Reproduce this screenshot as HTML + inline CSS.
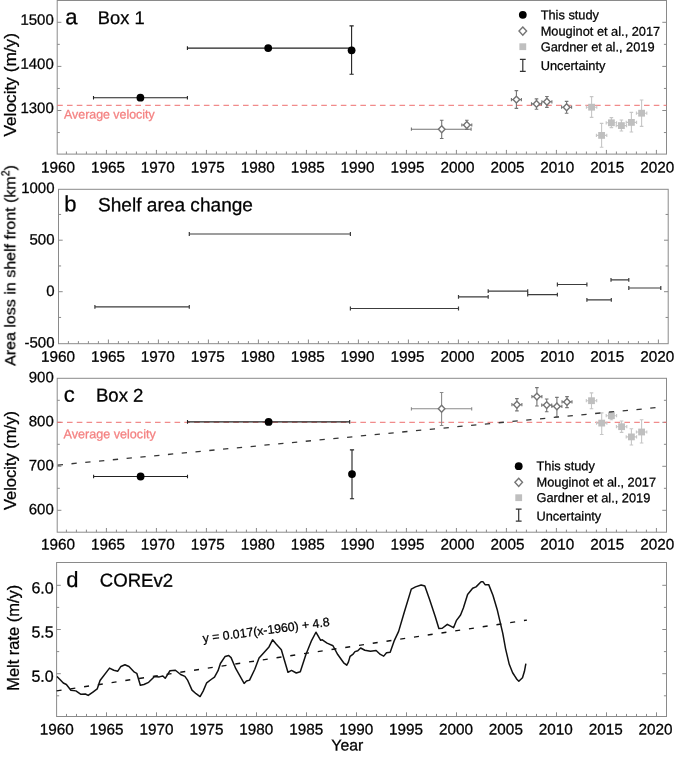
<!DOCTYPE html>
<html lang="en"><head><meta charset="utf-8"><title>Figure</title>
<style>html,body{margin:0;padding:0;background:#fff}svg{display:block}text{font-family:"Liberation Sans", Arial, Helvetica, sans-serif;stroke:#000;stroke-width:.28px}text.r{stroke:#f48282}</style></head><body>
<svg width="675" height="759" viewBox="0 0 675 759">
<rect width="675" height="759" fill="#fff"/>
<g style="opacity:0.999">
<g id="panel-a">
<rect x="57.2" y="0.5" width="609.3" height="153.6" fill="none" stroke="#8a8a8a" stroke-width="1"/>
<path d="M66.4 154.1v-2.6M76.4 154.1v-2.6M86.4 154.1v-2.6M96.4 154.1v-2.6M106.4 154.1v-4.2M116.4 154.1v-2.6M126.4 154.1v-2.6M136.4 154.1v-2.6M146.4 154.1v-2.6M156.4 154.1v-4.2M166.4 154.1v-2.6M176.4 154.1v-2.6M186.4 154.1v-2.6M196.4 154.1v-2.6M206.4 154.1v-4.2M216.4 154.1v-2.6M226.4 154.1v-2.6M236.4 154.1v-2.6M246.4 154.1v-2.6M256.4 154.1v-4.2M266.4 154.1v-2.6M276.4 154.1v-2.6M286.4 154.1v-2.6M296.4 154.1v-2.6M306.4 154.1v-4.2M316.4 154.1v-2.6M326.4 154.1v-2.6M336.4 154.1v-2.6M346.4 154.1v-2.6M356.4 154.1v-4.2M366.4 154.1v-2.6M376.4 154.1v-2.6M386.4 154.1v-2.6M396.4 154.1v-2.6M406.4 154.1v-4.2M416.4 154.1v-2.6M426.4 154.1v-2.6M436.4 154.1v-2.6M446.4 154.1v-2.6M456.4 154.1v-4.2M466.4 154.1v-2.6M476.4 154.1v-2.6M486.4 154.1v-2.6M496.4 154.1v-2.6M506.4 154.1v-4.2M516.4 154.1v-2.6M526.4 154.1v-2.6M536.4 154.1v-2.6M546.4 154.1v-2.6M556.4 154.1v-4.2M566.4 154.1v-2.6M576.4 154.1v-2.6M586.4 154.1v-2.6M596.4 154.1v-2.6M606.4 154.1v-4.2M616.4 154.1v-2.6M626.4 154.1v-2.6M636.4 154.1v-2.6M646.4 154.1v-2.6M656.4 154.1v-4.2M57.2 110.5h4.2M666.5 110.5h-4.2M57.2 66.4h4.2M666.5 66.4h-4.2M57.2 22.3h4.2M666.5 22.3h-4.2M57.2 132.55h2.6M666.5 132.55h-2.6M57.2 88.45h2.6M666.5 88.45h-2.6M57.2 44.35h2.6M666.5 44.35h-2.6" stroke="#8a8a8a" stroke-width="1" fill="none"/>
<g font-size="15.3" text-anchor="middle" fill="#000">
<text transform="rotate(0.05 58 172.4)" x="58" y="172.4">1960</text>
<text transform="rotate(0.05 107.94 172.4)" x="107.94" y="172.4">1965</text>
<text transform="rotate(0.05 157.87 172.4)" x="157.87" y="172.4">1970</text>
<text transform="rotate(0.05 207.81 172.4)" x="207.81" y="172.4">1975</text>
<text transform="rotate(0.05 257.74 172.4)" x="257.74" y="172.4">1980</text>
<text transform="rotate(0.05 307.68 172.4)" x="307.68" y="172.4">1985</text>
<text transform="rotate(0.05 357.61 172.4)" x="357.61" y="172.4">1990</text>
<text transform="rotate(0.05 407.55 172.4)" x="407.55" y="172.4">1995</text>
<text transform="rotate(0.05 457.48 172.4)" x="457.48" y="172.4">2000</text>
<text transform="rotate(0.05 507.42 172.4)" x="507.42" y="172.4">2005</text>
<text transform="rotate(0.05 557.35 172.4)" x="557.35" y="172.4">2010</text>
<text transform="rotate(0.05 607.28 172.4)" x="607.28" y="172.4">2015</text>
<text transform="rotate(0.05 657.22 172.4)" x="657.22" y="172.4">2020</text>
</g>
<g font-size="15" text-anchor="end" fill="#000">
<text transform="rotate(0.05 53.8 113)" x="53.8" y="113">1300</text>
<text transform="rotate(0.05 53.8 68.9)" x="53.8" y="68.9">1400</text>
<text transform="rotate(0.05 53.8 24.8)" x="53.8" y="24.8">1500</text>
</g>
<path d="M57.2 105.3H666.5" stroke="#ee6e6e" stroke-width="1" stroke-dasharray="5.6 4.18" fill="none"/>
<text transform="rotate(0.05 64 118.5)" x="64" y="118.5" font-size="12.4" class="r" fill="#f48282">Average velocity</text>
<path d="M93.5 97.7H187.4M93.5 95.9v3.6M187.4 95.9v3.6" stroke="#222" stroke-width="1.1" fill="none"/>
<path d="M140.4 95.5V100M140.4 95.5h0M140.4 100h0" stroke="#222" stroke-width="1.1" fill="none"/>
<circle cx="140.4" cy="97.7" r="3.9" fill="#000"/>
<path d="M187.4 48.1H351.6M187.4 46.3v3.6M351.6 46.3v3.6" stroke="#222" stroke-width="1.1" fill="none"/>
<circle cx="268.2" cy="48.1" r="3.9" fill="#000"/>
<path d="M351.6 25.9V74.2M349.5 25.9h4.2M349.5 74.2h4.2" stroke="#222" stroke-width="1.1" fill="none"/>
<circle cx="351.6" cy="50.3" r="3.9" fill="#000"/>
<path d="M411.4 129.2H471.1M411.4 127.6v3.2M471.1 127.6v3.2" stroke="#747474" stroke-width="1.1" fill="none"/>
<path d="M441.7 120.2V138.5M439.9 120.2h3.6M439.9 138.5h3.6" stroke="#747474" stroke-width="1.1" fill="none"/>
<path d="M441.7 125.75L445 129.2L441.7 132.65L438.4 129.2Z" fill="#fff" stroke="#747474" stroke-width="1.4"/>
<path d="M461.8 125H471.8M461.8 123.4v3.2M471.8 123.4v3.2" stroke="#747474" stroke-width="1.1" fill="none"/>
<path d="M466.8 120.2V129.4M465 120.2h3.6M465 129.4h3.6" stroke="#747474" stroke-width="1.1" fill="none"/>
<path d="M466.8 121.55L470.1 125L466.8 128.45L463.5 125Z" fill="#fff" stroke="#747474" stroke-width="1.4"/>
<path d="M511.4 99.6H521.4M511.4 98v3.2M521.4 98v3.2" stroke="#747474" stroke-width="1.1" fill="none"/>
<path d="M516.4 90.6V108.4M514.6 90.6h3.6M514.6 108.4h3.6" stroke="#747474" stroke-width="1.1" fill="none"/>
<path d="M516.4 96.15L519.7 99.6L516.4 103.05L513.1 99.6Z" fill="#fff" stroke="#747474" stroke-width="1.4"/>
<path d="M531.5 103.9H541.5M531.5 102.3v3.2M541.5 102.3v3.2" stroke="#747474" stroke-width="1.1" fill="none"/>
<path d="M536.5 98.9V109.3M534.7 98.9h3.6M534.7 109.3h3.6" stroke="#747474" stroke-width="1.1" fill="none"/>
<path d="M536.5 100.45L539.8 103.9L536.5 107.35L533.2 103.9Z" fill="#fff" stroke="#747474" stroke-width="1.4"/>
<path d="M541.9 101.8H551.9M541.9 100.2v3.2M551.9 100.2v3.2" stroke="#747474" stroke-width="1.1" fill="none"/>
<path d="M546.9 96.5V107.4M545.1 96.5h3.6M545.1 107.4h3.6" stroke="#747474" stroke-width="1.1" fill="none"/>
<path d="M546.9 98.35L550.2 101.8L546.9 105.25L543.6 101.8Z" fill="#fff" stroke="#747474" stroke-width="1.4"/>
<path d="M561.6 107.2H571.6M561.6 105.6v3.2M571.6 105.6v3.2" stroke="#747474" stroke-width="1.1" fill="none"/>
<path d="M566.6 101.4V113.2M564.8 101.4h3.6M564.8 113.2h3.6" stroke="#747474" stroke-width="1.1" fill="none"/>
<path d="M566.6 103.75L569.9 107.2L566.6 110.65L563.3 107.2Z" fill="#fff" stroke="#747474" stroke-width="1.4"/>
<path d="M586.4 107.2H596.8M586.4 105.6v3.2M596.8 105.6v3.2" stroke="#c6c6c6" stroke-width="1.1" fill="none"/>
<path d="M591.6 96.6V117.4M589.8 96.6h3.6M589.8 117.4h3.6" stroke="#c6c6c6" stroke-width="1.1" fill="none"/>
<rect x="588.2" y="103.8" width="6.8" height="6.8" fill="#bfbfbf"/>
<path d="M596.4 135.4H606.8M596.4 133.8v3.2M606.8 133.8v3.2" stroke="#c6c6c6" stroke-width="1.1" fill="none"/>
<path d="M601.6 123.4V147.2M599.8 123.4h3.6M599.8 147.2h3.6" stroke="#c6c6c6" stroke-width="1.1" fill="none"/>
<rect x="598.2" y="132" width="6.8" height="6.8" fill="#bfbfbf"/>
<path d="M606.2 122.8H616.6M606.2 121.2v3.2M616.6 121.2v3.2" stroke="#c6c6c6" stroke-width="1.1" fill="none"/>
<path d="M611.4 117.6V127.6M609.6 117.6h3.6M609.6 127.6h3.6" stroke="#c6c6c6" stroke-width="1.1" fill="none"/>
<rect x="608" y="119.4" width="6.8" height="6.8" fill="#bfbfbf"/>
<path d="M616.2 125.6H626.6M616.2 124v3.2M626.6 124v3.2" stroke="#c6c6c6" stroke-width="1.1" fill="none"/>
<path d="M621.4 120V131M619.6 120h3.6M619.6 131h3.6" stroke="#c6c6c6" stroke-width="1.1" fill="none"/>
<rect x="618" y="122.2" width="6.8" height="6.8" fill="#bfbfbf"/>
<path d="M626.2 122.4H636.6M626.2 120.8v3.2M636.6 120.8v3.2" stroke="#c6c6c6" stroke-width="1.1" fill="none"/>
<path d="M631.4 112.4V132M629.6 112.4h3.6M629.6 132h3.6" stroke="#c6c6c6" stroke-width="1.1" fill="none"/>
<rect x="628" y="119" width="6.8" height="6.8" fill="#bfbfbf"/>
<path d="M636.4 113.2H646.8M636.4 111.6v3.2M646.8 111.6v3.2" stroke="#c6c6c6" stroke-width="1.1" fill="none"/>
<path d="M641.6 100V126.4M639.8 100h3.6M639.8 126.4h3.6" stroke="#c6c6c6" stroke-width="1.1" fill="none"/>
<rect x="638.2" y="109.8" width="6.8" height="6.8" fill="#bfbfbf"/>
<circle cx="522.8" cy="14.8" r="3.9" fill="#000"/>
<path d="M522.8 27L526.6 31.1L522.8 35.2L519 31.1Z" fill="#fff" stroke="#747474" stroke-width="1.4"/>
<rect x="519.4" y="43.3" width="6.8" height="6.8" fill="#bfbfbf"/>
<path d="M522.8 59.4V71.4M519.9 59.4h5.8M519.9 71.4h5.8" stroke="#333" stroke-width="1.2" fill="none"/>
<g font-size="12.8" fill="#000">
<text transform="rotate(0.05 540.7 19.3)" x="540.7" y="19.3">This study</text>
<text transform="rotate(0.05 540.7 35.6)" x="540.7" y="35.6">Mouginot et al., 2017</text>
<text transform="rotate(0.05 540.7 51.2)" x="540.7" y="51.2">Gardner et al., 2019</text>
<text transform="rotate(0.05 540.7 69.9)" x="540.7" y="69.9">Uncertainty</text>
</g>
<text transform="rotate(0.05 65.2 24.2)" x="65.2" y="24.2" font-size="22" fill="#000">a</text><text transform="rotate(0.05 97.8 24)" x="97.8" y="24" font-size="18.3" fill="#000">Box 1</text>
<text transform="translate(15.8,136.6) rotate(-90)" font-size="16.2" textLength="103.6" lengthAdjust="spacingAndGlyphs" fill="#000">Velocity (m/y)</text>
</g>
<g id="panel-b">
<rect x="58.5" y="189.3" width="609.7" height="154.4" fill="none" stroke="#8a8a8a" stroke-width="1"/>
<path d="M68.4 343.7v-2.6M78.4 343.7v-2.6M88.4 343.7v-2.6M98.4 343.7v-2.6M108.4 343.7v-4.2M118.4 343.7v-2.6M128.4 343.7v-2.6M138.4 343.7v-2.6M148.4 343.7v-2.6M158.4 343.7v-4.2M168.4 343.7v-2.6M178.4 343.7v-2.6M188.4 343.7v-2.6M198.4 343.7v-2.6M208.4 343.7v-4.2M218.4 343.7v-2.6M228.4 343.7v-2.6M238.4 343.7v-2.6M248.4 343.7v-2.6M258.4 343.7v-4.2M268.4 343.7v-2.6M278.4 343.7v-2.6M288.4 343.7v-2.6M298.4 343.7v-2.6M308.4 343.7v-4.2M318.4 343.7v-2.6M328.4 343.7v-2.6M338.4 343.7v-2.6M348.4 343.7v-2.6M358.4 343.7v-4.2M368.4 343.7v-2.6M378.4 343.7v-2.6M388.4 343.7v-2.6M398.4 343.7v-2.6M408.4 343.7v-4.2M418.4 343.7v-2.6M428.4 343.7v-2.6M438.4 343.7v-2.6M448.4 343.7v-2.6M458.4 343.7v-4.2M468.4 343.7v-2.6M478.4 343.7v-2.6M488.4 343.7v-2.6M498.4 343.7v-2.6M508.4 343.7v-4.2M518.4 343.7v-2.6M528.4 343.7v-2.6M538.4 343.7v-2.6M548.4 343.7v-2.6M558.4 343.7v-4.2M568.4 343.7v-2.6M578.4 343.7v-2.6M588.4 343.7v-2.6M598.4 343.7v-2.6M608.4 343.7v-4.2M618.4 343.7v-2.6M628.4 343.7v-2.6M638.4 343.7v-2.6M648.4 343.7v-2.6M658.4 343.7v-4.2M58.5 291.7h4.2M668.2 291.7h-4.2M58.5 240.2h4.2M668.2 240.2h-4.2M58.5 317.45h2.6M668.2 317.45h-2.6M58.5 265.95h2.6M668.2 265.95h-2.6M58.5 214.45h2.6M668.2 214.45h-2.6" stroke="#8a8a8a" stroke-width="1" fill="none"/>
<g font-size="15.3" text-anchor="middle" fill="#000">
<text transform="rotate(0.05 58 361.7)" x="58" y="361.7">1960</text>
<text transform="rotate(0.05 107.94 361.7)" x="107.94" y="361.7">1965</text>
<text transform="rotate(0.05 157.87 361.7)" x="157.87" y="361.7">1970</text>
<text transform="rotate(0.05 207.81 361.7)" x="207.81" y="361.7">1975</text>
<text transform="rotate(0.05 257.74 361.7)" x="257.74" y="361.7">1980</text>
<text transform="rotate(0.05 307.68 361.7)" x="307.68" y="361.7">1985</text>
<text transform="rotate(0.05 357.61 361.7)" x="357.61" y="361.7">1990</text>
<text transform="rotate(0.05 407.55 361.7)" x="407.55" y="361.7">1995</text>
<text transform="rotate(0.05 457.48 361.7)" x="457.48" y="361.7">2000</text>
<text transform="rotate(0.05 507.42 361.7)" x="507.42" y="361.7">2005</text>
<text transform="rotate(0.05 557.35 361.7)" x="557.35" y="361.7">2010</text>
<text transform="rotate(0.05 607.28 361.7)" x="607.28" y="361.7">2015</text>
<text transform="rotate(0.05 657.22 361.7)" x="657.22" y="361.7">2020</text>
</g>
<g font-size="15" text-anchor="end" fill="#000">
<text transform="rotate(0.05 54.5 347.6)" x="54.5" y="347.6">-500</text>
<text transform="rotate(0.05 54.5 296.1)" x="54.5" y="296.1">0</text>
<text transform="rotate(0.05 54.5 244.6)" x="54.5" y="244.6">500</text>
<text transform="rotate(0.05 54.5 193.1)" x="54.5" y="193.1">1000</text>
</g>
<path d="M94.9 306.8H189.3M94.9 304.9v3.8M189.3 304.9v3.8" stroke="#3c3c3c" stroke-width="1.2" fill="none"/>
<path d="M189.3 234H350.4M189.3 232.1v3.8M350.4 232.1v3.8" stroke="#3c3c3c" stroke-width="1.2" fill="none"/>
<path d="M350.4 308.5H458.5M350.4 306.6v3.8M458.5 306.6v3.8" stroke="#3c3c3c" stroke-width="1.2" fill="none"/>
<path d="M458.5 296.8H488.2M458.5 294.9v3.8M488.2 294.9v3.8" stroke="#3c3c3c" stroke-width="1.2" fill="none"/>
<path d="M488.2 291.1H527.7M488.2 289.2v3.8M527.7 289.2v3.8" stroke="#3c3c3c" stroke-width="1.2" fill="none"/>
<path d="M527.7 294.6H557.4M527.7 292.7v3.8M557.4 292.7v3.8" stroke="#3c3c3c" stroke-width="1.2" fill="none"/>
<path d="M557.4 284.5H586.9M557.4 282.6v3.8M586.9 282.6v3.8" stroke="#3c3c3c" stroke-width="1.2" fill="none"/>
<path d="M586.9 299.8H611.3M586.9 297.9v3.8M611.3 297.9v3.8" stroke="#3c3c3c" stroke-width="1.2" fill="none"/>
<path d="M611 279.9H628.8M611 278v3.8M628.8 278v3.8" stroke="#3c3c3c" stroke-width="1.2" fill="none"/>
<path d="M628.8 288H660.8M628.8 286.1v3.8M660.8 286.1v3.8" stroke="#3c3c3c" stroke-width="1.2" fill="none"/>
<text transform="rotate(0.05 64.2 211.3)" x="64.2" y="211.3" font-size="22" fill="#000">b</text><text transform="rotate(0.05 98 211.2)" x="98" y="211.2" font-size="19.1" fill="#000">Shelf area change</text>
<text transform="translate(15.3,365.9) rotate(-90)" font-size="15.5" textLength="200.8" lengthAdjust="spacingAndGlyphs" fill="#000">Area loss in shelf front (km<tspan font-size="10" dy="-6">2</tspan><tspan dy="6">)</tspan></text>
</g>
<g id="panel-c">
<rect x="57.2" y="378.3" width="609.3" height="153.9" fill="none" stroke="#8a8a8a" stroke-width="1"/>
<path d="M66.4 532.2v-2.6M76.4 532.2v-2.6M86.4 532.2v-2.6M96.4 532.2v-2.6M106.4 532.2v-4.2M116.4 532.2v-2.6M126.4 532.2v-2.6M136.4 532.2v-2.6M146.4 532.2v-2.6M156.4 532.2v-4.2M166.4 532.2v-2.6M176.4 532.2v-2.6M186.4 532.2v-2.6M196.4 532.2v-2.6M206.4 532.2v-4.2M216.4 532.2v-2.6M226.4 532.2v-2.6M236.4 532.2v-2.6M246.4 532.2v-2.6M256.4 532.2v-4.2M266.4 532.2v-2.6M276.4 532.2v-2.6M286.4 532.2v-2.6M296.4 532.2v-2.6M306.4 532.2v-4.2M316.4 532.2v-2.6M326.4 532.2v-2.6M336.4 532.2v-2.6M346.4 532.2v-2.6M356.4 532.2v-4.2M366.4 532.2v-2.6M376.4 532.2v-2.6M386.4 532.2v-2.6M396.4 532.2v-2.6M406.4 532.2v-4.2M416.4 532.2v-2.6M426.4 532.2v-2.6M436.4 532.2v-2.6M446.4 532.2v-2.6M456.4 532.2v-4.2M466.4 532.2v-2.6M476.4 532.2v-2.6M486.4 532.2v-2.6M496.4 532.2v-2.6M506.4 532.2v-4.2M516.4 532.2v-2.6M526.4 532.2v-2.6M536.4 532.2v-2.6M546.4 532.2v-2.6M556.4 532.2v-4.2M566.4 532.2v-2.6M576.4 532.2v-2.6M586.4 532.2v-2.6M596.4 532.2v-2.6M606.4 532.2v-4.2M616.4 532.2v-2.6M626.4 532.2v-2.6M636.4 532.2v-2.6M646.4 532.2v-2.6M656.4 532.2v-4.2M57.2 510.3h4.2M666.5 510.3h-4.2M57.2 466.3h4.2M666.5 466.3h-4.2M57.2 422.3h4.2M666.5 422.3h-4.2M57.2 488.3h2.6M666.5 488.3h-2.6M57.2 444.3h2.6M666.5 444.3h-2.6M57.2 400.3h2.6M666.5 400.3h-2.6" stroke="#8a8a8a" stroke-width="1" fill="none"/>
<g font-size="15.3" text-anchor="middle" fill="#000">
<text transform="rotate(0.05 58 549.4)" x="58" y="549.4">1960</text>
<text transform="rotate(0.05 107.94 549.4)" x="107.94" y="549.4">1965</text>
<text transform="rotate(0.05 157.87 549.4)" x="157.87" y="549.4">1970</text>
<text transform="rotate(0.05 207.81 549.4)" x="207.81" y="549.4">1975</text>
<text transform="rotate(0.05 257.74 549.4)" x="257.74" y="549.4">1980</text>
<text transform="rotate(0.05 307.68 549.4)" x="307.68" y="549.4">1985</text>
<text transform="rotate(0.05 357.61 549.4)" x="357.61" y="549.4">1990</text>
<text transform="rotate(0.05 407.55 549.4)" x="407.55" y="549.4">1995</text>
<text transform="rotate(0.05 457.48 549.4)" x="457.48" y="549.4">2000</text>
<text transform="rotate(0.05 507.42 549.4)" x="507.42" y="549.4">2005</text>
<text transform="rotate(0.05 557.35 549.4)" x="557.35" y="549.4">2010</text>
<text transform="rotate(0.05 607.28 549.4)" x="607.28" y="549.4">2015</text>
<text transform="rotate(0.05 657.22 549.4)" x="657.22" y="549.4">2020</text>
</g>
<g font-size="15" text-anchor="end" fill="#000">
<text transform="rotate(0.05 53.8 514.3)" x="53.8" y="514.3">600</text>
<text transform="rotate(0.05 53.8 470.3)" x="53.8" y="470.3">700</text>
<text transform="rotate(0.05 53.8 426.3)" x="53.8" y="426.3">800</text>
<text transform="rotate(0.05 53.8 382.3)" x="53.8" y="382.3">900</text>
</g>
<path d="M57.2 422.3H666.5" stroke="#ee6e6e" stroke-width="1" stroke-dasharray="5.6 4.18" fill="none"/>
<text transform="rotate(0.05 63.6 438.3)" x="63.6" y="438.3" font-size="12.6" class="r" fill="#f48282">Average velocity</text>
<path d="M93.6 476.5H187.5M93.6 474.7v3.6M187.5 474.7v3.6" stroke="#222" stroke-width="1.1" fill="none"/>
<circle cx="140.6" cy="476.5" r="3.9" fill="#000"/>
<path d="M187.5 421.9H349.7M187.5 420.1v3.6M349.7 420.1v3.6" stroke="#222" stroke-width="1.1" fill="none"/>
<circle cx="268.6" cy="421.9" r="3.9" fill="#000"/>
<path d="M352 449.9V498.8M349.9 449.9h4.2M349.9 498.8h4.2" stroke="#222" stroke-width="1.1" fill="none"/>
<circle cx="352" cy="474.1" r="3.9" fill="#000"/>
<path d="M411.4 408.8H471.7M411.4 407.2v3.2M471.7 407.2v3.2" stroke="#8a8a8a" stroke-width="1.1" fill="none"/>
<path d="M441.6 392.5V425.5M439.8 392.5h3.6M439.8 425.5h3.6" stroke="#8a8a8a" stroke-width="1.1" fill="none"/>
<path d="M441.6 405.35L444.9 408.8L441.6 412.25L438.3 408.8Z" fill="#fff" stroke="#747474" stroke-width="1.4"/>
<path d="M511.9 404.7H521.9M511.9 403.1v3.2M521.9 403.1v3.2" stroke="#747474" stroke-width="1.1" fill="none"/>
<path d="M516.9 398.6V410.9M515.1 398.6h3.6M515.1 410.9h3.6" stroke="#747474" stroke-width="1.1" fill="none"/>
<path d="M516.9 401.25L520.2 404.7L516.9 408.15L513.6 404.7Z" fill="#fff" stroke="#747474" stroke-width="1.4"/>
<path d="M531.9 396.6H541.9M531.9 395v3.2M541.9 395v3.2" stroke="#747474" stroke-width="1.1" fill="none"/>
<path d="M536.9 387.6V406M535.1 387.6h3.6M535.1 406h3.6" stroke="#747474" stroke-width="1.1" fill="none"/>
<path d="M536.9 393.15L540.2 396.6L536.9 400.05L533.6 396.6Z" fill="#fff" stroke="#747474" stroke-width="1.4"/>
<path d="M541.7 405.1H551.7M541.7 403.5v3.2M551.7 403.5v3.2" stroke="#747474" stroke-width="1.1" fill="none"/>
<path d="M546.7 399V411.7M544.9 399h3.6M544.9 411.7h3.6" stroke="#747474" stroke-width="1.1" fill="none"/>
<path d="M546.7 401.65L550 405.1L546.7 408.55L543.4 405.1Z" fill="#fff" stroke="#747474" stroke-width="1.4"/>
<path d="M551.9 406.4H561.9M551.9 404.8v3.2M561.9 404.8v3.2" stroke="#747474" stroke-width="1.1" fill="none"/>
<path d="M556.9 397.4V417M555.1 397.4h3.6M555.1 417h3.6" stroke="#747474" stroke-width="1.1" fill="none"/>
<path d="M556.9 402.95L560.2 406.4L556.9 409.85L553.6 406.4Z" fill="#fff" stroke="#747474" stroke-width="1.4"/>
<path d="M562 401.9H572M562 400.3v3.2M572 400.3v3.2" stroke="#747474" stroke-width="1.1" fill="none"/>
<path d="M567 396.6V407.6M565.2 396.6h3.6M565.2 407.6h3.6" stroke="#747474" stroke-width="1.1" fill="none"/>
<path d="M567 398.45L570.3 401.9L567 405.35L563.7 401.9Z" fill="#fff" stroke="#747474" stroke-width="1.4"/>
<path d="M586.3 400.7H596.7M586.3 399.1v3.2M596.7 399.1v3.2" stroke="#c6c6c6" stroke-width="1.1" fill="none"/>
<path d="M591.5 392.9V408.8M589.7 392.9h3.6M589.7 408.8h3.6" stroke="#c6c6c6" stroke-width="1.1" fill="none"/>
<rect x="588.1" y="397.3" width="6.8" height="6.8" fill="#bfbfbf"/>
<path d="M596.5 423.1H606.9M596.5 421.5v3.2M606.9 421.5v3.2" stroke="#c6c6c6" stroke-width="1.1" fill="none"/>
<path d="M601.7 412.9V434.5M599.9 412.9h3.6M599.9 434.5h3.6" stroke="#c6c6c6" stroke-width="1.1" fill="none"/>
<rect x="598.3" y="419.7" width="6.8" height="6.8" fill="#bfbfbf"/>
<path d="M606.2 415.7H616.6M606.2 414.1v3.2M616.6 414.1v3.2" stroke="#c6c6c6" stroke-width="1.1" fill="none"/>
<path d="M611.4 411.6V419.8M609.6 411.6h3.6M609.6 419.8h3.6" stroke="#c6c6c6" stroke-width="1.1" fill="none"/>
<rect x="608" y="412.3" width="6.8" height="6.8" fill="#bfbfbf"/>
<path d="M616.4 426.7H626.8M616.4 425.1v3.2M626.8 425.1v3.2" stroke="#c6c6c6" stroke-width="1.1" fill="none"/>
<path d="M621.6 421V432.4M619.8 421h3.6M619.8 432.4h3.6" stroke="#c6c6c6" stroke-width="1.1" fill="none"/>
<rect x="618.2" y="423.3" width="6.8" height="6.8" fill="#bfbfbf"/>
<path d="M626.2 436.9H636.6M626.2 435.3v3.2M636.6 435.3v3.2" stroke="#c6c6c6" stroke-width="1.1" fill="none"/>
<path d="M631.4 428.8V445M629.6 428.8h3.6M629.6 445h3.6" stroke="#c6c6c6" stroke-width="1.1" fill="none"/>
<rect x="628" y="433.5" width="6.8" height="6.8" fill="#bfbfbf"/>
<path d="M636.4 432H646.8M636.4 430.4v3.2M646.8 430.4v3.2" stroke="#c6c6c6" stroke-width="1.1" fill="none"/>
<path d="M641.6 419.8V443M639.8 419.8h3.6M639.8 443h3.6" stroke="#c6c6c6" stroke-width="1.1" fill="none"/>
<rect x="638.2" y="428.6" width="6.8" height="6.8" fill="#bfbfbf"/>
<path d="M57.2 465.1L656.7 407.6" stroke="#363636" stroke-width="1.3" stroke-dasharray="5.3 8.543" stroke-dashoffset="-0.5" fill="none"/>
<circle cx="518.7" cy="466.2" r="3.9" fill="#000"/>
<path d="M518.7 478.2L522.5 482.3L518.7 486.4L514.9 482.3Z" fill="#fff" stroke="#747474" stroke-width="1.4"/>
<rect x="515.3" y="494.3" width="6.8" height="6.8" fill="#bfbfbf"/>
<path d="M518.7 509.2V521.2M515.8 509.2h5.8M515.8 521.2h5.8" stroke="#333" stroke-width="1.2" fill="none"/>
<g font-size="12.8" fill="#000">
<text transform="rotate(0.05 536.5 470.3)" x="536.5" y="470.3">This study</text>
<text transform="rotate(0.05 536.5 486.4)" x="536.5" y="486.4">Mouginot et al., 2017</text>
<text transform="rotate(0.05 536.5 502.1)" x="536.5" y="502.1">Gardner et al., 2019</text>
<text transform="rotate(0.05 536.5 520.5)" x="536.5" y="520.5">Uncertainty</text>
</g>
<text transform="rotate(0.05 63.8 401.8)" x="63.8" y="401.8" font-size="22" fill="#000">c</text><text transform="rotate(0.05 95.9 401.6)" x="95.9" y="401.6" font-size="18.6" fill="#000">Box 2</text>
<text transform="translate(15.8,510.1) rotate(-90)" font-size="15.8" textLength="99" lengthAdjust="spacingAndGlyphs" fill="#000">Velocity (m/y)</text>
</g>
<g id="panel-d">
<rect x="56.6" y="562.5" width="609.9" height="154" fill="none" stroke="#8a8a8a" stroke-width="1"/>
<path d="M66.5 716.5v-2.6M76.5 716.5v-2.6M86.5 716.5v-2.6M96.5 716.5v-2.6M106.5 716.5v-4.2M116.5 716.5v-2.6M126.5 716.5v-2.6M136.5 716.5v-2.6M146.5 716.5v-2.6M156.5 716.5v-4.2M166.5 716.5v-2.6M176.5 716.5v-2.6M186.5 716.5v-2.6M196.5 716.5v-2.6M206.5 716.5v-4.2M216.5 716.5v-2.6M226.5 716.5v-2.6M236.5 716.5v-2.6M246.5 716.5v-2.6M256.5 716.5v-4.2M266.5 716.5v-2.6M276.5 716.5v-2.6M286.5 716.5v-2.6M296.5 716.5v-2.6M306.5 716.5v-4.2M316.5 716.5v-2.6M326.5 716.5v-2.6M336.5 716.5v-2.6M346.5 716.5v-2.6M356.5 716.5v-4.2M366.5 716.5v-2.6M376.5 716.5v-2.6M386.5 716.5v-2.6M396.5 716.5v-2.6M406.5 716.5v-4.2M416.5 716.5v-2.6M426.5 716.5v-2.6M436.5 716.5v-2.6M446.5 716.5v-2.6M456.5 716.5v-4.2M466.5 716.5v-2.6M476.5 716.5v-2.6M486.5 716.5v-2.6M496.5 716.5v-2.6M506.5 716.5v-4.2M516.5 716.5v-2.6M526.5 716.5v-2.6M536.5 716.5v-2.6M546.5 716.5v-2.6M556.5 716.5v-4.2M566.5 716.5v-2.6M576.5 716.5v-2.6M586.5 716.5v-2.6M596.5 716.5v-2.6M606.5 716.5v-4.2M616.5 716.5v-2.6M626.5 716.5v-2.6M636.5 716.5v-2.6M646.5 716.5v-2.6M656.5 716.5v-4.2M56.6 673.7h4.2M666.5 673.7h-4.2M56.6 629.5h4.2M666.5 629.5h-4.2M56.6 585.3h4.2M666.5 585.3h-4.2M56.6 695.8h2.6M666.5 695.8h-2.6M56.6 651.6h2.6M666.5 651.6h-2.6M56.6 607.4h2.6M666.5 607.4h-2.6" stroke="#8a8a8a" stroke-width="1" fill="none"/>
<g font-size="15.3" text-anchor="middle" fill="#000">
<text transform="rotate(0.05 56.7 734.5)" x="56.7" y="734.5">1960</text>
<text transform="rotate(0.05 106.61 734.5)" x="106.61" y="734.5">1965</text>
<text transform="rotate(0.05 156.52 734.5)" x="156.52" y="734.5">1970</text>
<text transform="rotate(0.05 206.43 734.5)" x="206.43" y="734.5">1975</text>
<text transform="rotate(0.05 256.34 734.5)" x="256.34" y="734.5">1980</text>
<text transform="rotate(0.05 306.25 734.5)" x="306.25" y="734.5">1985</text>
<text transform="rotate(0.05 356.16 734.5)" x="356.16" y="734.5">1990</text>
<text transform="rotate(0.05 406.07 734.5)" x="406.07" y="734.5">1995</text>
<text transform="rotate(0.05 455.98 734.5)" x="455.98" y="734.5">2000</text>
<text transform="rotate(0.05 505.89 734.5)" x="505.89" y="734.5">2005</text>
<text transform="rotate(0.05 555.8 734.5)" x="555.8" y="734.5">2010</text>
<text transform="rotate(0.05 605.71 734.5)" x="605.71" y="734.5">2015</text>
<text transform="rotate(0.05 655.62 734.5)" x="655.62" y="734.5">2020</text>
</g>
<g font-size="16" text-anchor="end" fill="#000">
<text transform="rotate(0.05 53.7 681.8)" x="53.7" y="681.8">5.0</text>
<text transform="rotate(0.05 53.7 637.6)" x="53.7" y="637.6">5.5</text>
<text transform="rotate(0.05 53.7 593.4)" x="53.7" y="593.4">6.0</text>
</g>
<path d="M56.9 676.41L60.21 679.73L63.3 683.05L66.38 684.47L70.88 690.16L75.86 690.87L80.6 694.19L85.34 693.96L88.19 695.38L92.93 692.06L97.19 688.98L100.04 680.44L109.52 668.12L113.79 670.25L117.81 671.2L120.9 666.46L124.93 664.8L128.96 666.46L134.41 672.15L136.78 673.33L140.33 685.19L143.89 684.47L148.63 682.34L154.56 676.41L159.3 676.89L162.85 675.94L165.22 678.31L169.96 670.73L175.41 670.25L180.63 674.52L184.9 676.41L187.74 680.44L192.01 690.16L196.04 693.72L200.07 696.56L203.15 691.11L206.7 682.81L211.44 679.26L214.48 677.04L218.04 670.64L220.41 663.53L225.15 656.41L228.7 655.47L231.07 657.6L235.81 668.74L244.11 683.44L246.48 681.07L249.56 680.12L254.78 669.21L259.04 658.07L264.26 652.15L269 646.93L272.56 639.82L276.11 644.09L281.33 649.78L287.96 672.3L291.52 670.4L296.26 673.01L300.29 671.82L305.74 654.99L311.67 640.3L315.93 632.24L320.67 640.3L322.33 639.82L327.07 643.14L333 645.75L337.74 654.52L343.67 662.81L346.75 665.19L348.41 662.1L350.07 656.41L353.15 654.04L355 651.63L357.81 650.79L360.63 647.97L364.85 650.22L370.48 651.35L376.11 650.5L380.33 654.45L383.71 656.13L386.53 652.76L390.19 652.19L394.41 640.37L398.63 631.36L404.26 612.22L411.3 589.14L415.52 586.89L421.15 584.92L424.81 586.04L429.59 599.56L435.22 616.44L438.88 628.55L442.26 628.27L447.33 624.33L453.52 627.7L456.33 620.67L460.56 615.04L463.37 608L467.59 594.49L472.66 588.3L476.04 586.89L481.1 581.82L483.08 581.82L485.05 584.64L488.7 584.64L492.93 595.33L497.15 609.41L502.78 633.33L505.59 648.82L509.25 664.3L512.63 672.74L516.85 679.22L518.82 681.19L522.48 677.81L524.45 671.33L525.86 663.73" stroke="#111" stroke-width="1.5" fill="none" stroke-linejoin="round"/>
<path d="M56.6 690.9L526.9 620.1" stroke="#111" stroke-width="1.4" stroke-dasharray="5 8.9" fill="none"/>
<text transform="translate(203.2,642.6) rotate(-7.5)" font-size="12.3" fill="#000">y = 0.017(x-1960) + 4.8</text>
<text transform="rotate(0.05 66.2 586.9)" x="66.2" y="586.9" font-size="22" fill="#000">d</text><text transform="rotate(0.05 99.8 586.6)" x="99.8" y="586.6" font-size="18.6" fill="#000">COREv2</text>
<text transform="translate(19.4,690.8) rotate(-90)" font-size="16" textLength="106" lengthAdjust="spacingAndGlyphs" fill="#000">Melt rate (m/y)</text>
<text transform="rotate(0.05 347.3 750.6)" x="347.3" y="750.6" font-size="15.8" text-anchor="middle" fill="#000">Year</text>
</g>
</g></svg></body></html>
